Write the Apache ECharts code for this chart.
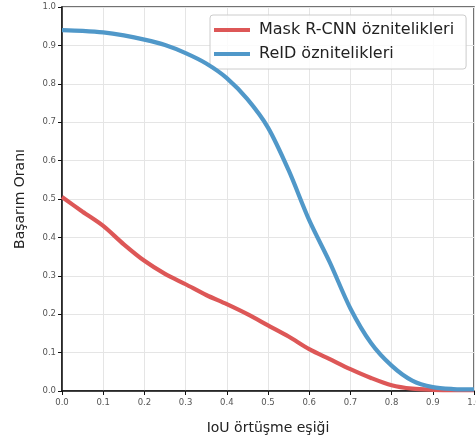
<!DOCTYPE html>
<html>
<head>
<meta charset="utf-8">
<script src="https://cdn.jsdelivr.net/npm/echarts@6/dist/echarts.min.js"></script>
<style>html,body{margin:0;padding:0;background:#fff}#c{width:476px;height:443px}</style>
</head>
<body>
<div id="c"></div>
<script>
const iouThresholds = [0,0.05,0.1,0.15,0.2,0.25,0.3,0.35,0.4,0.45,0.5,0.55,0.6,0.65,0.7,0.75,0.8,0.85,0.9,0.95,1.0];
const maskRcnn = [0.505,0.467,0.430,0.382,0.339,0.305,0.278,0.250,0.226,0.200,0.171,0.142,0.109,0.083,0.057,0.034,0.015,0.006,0.003,0.002,0.002];
const reid = [0.940,0.938,0.934,0.926,0.915,0.901,0.880,0.853,0.815,0.760,0.686,0.575,0.445,0.335,0.215,0.125,0.066,0.027,0.010,0.005,0.004];
const seriesNames = ['Mask R-CNN öznitelikleri','ReID öznitelikleri'];
const xTitle = 'IoU örtüşme eşiği';
const yTitle = 'Başarım Oranı';

const pairs = arr => iouThresholds.map((x,i)=>[x,arr[i]]);
const chart = echarts.init(document.getElementById('c'), null, {renderer:'canvas'});
const font = 'DejaVu Sans';
chart.setOption({
  animation:false,
  backgroundColor:'#fff',
  textStyle:{fontFamily:font},
  grid:{left:62,right:2,top:7,bottom:52,show:true,borderColor:'#444',borderWidth:1.5,backgroundColor:'transparent',
        containLabel:false,outerBoundsMode:'none'},
  legend:{
    left:210, top:15, orient:'vertical',
    padding:[7,12,7,4],
    backgroundColor:'rgba(255,255,255,0.85)',
    borderColor:'#ccc', borderWidth:1, borderRadius:3,
    icon:'rect', itemWidth:36, itemHeight:4, itemGap:8,
    textStyle:{fontSize:16,color:'#222',fontFamily:font,padding:[0,0,0,4]},
    data:seriesNames
  },
  xAxis:{
    type:'value', min:0, max:1, interval:0.1,
    name:xTitle, nameLocation:'middle', nameGap:30,
    nameTextStyle:{fontSize:14,color:'#222',fontFamily:font},
    axisLine:{show:true,lineStyle:{color:'#111',width:1.5}},
    axisTick:{show:true,length:4,lineStyle:{color:'#111'}},
    axisLabel:{fontSize:8.5,color:'#555',margin:7,formatter:v=>v.toFixed(1)},
    splitLine:{show:true,lineStyle:{color:'#e5e5e5',width:1}}
  },
  yAxis:{
    type:'value', min:0, max:1, interval:0.1,
    name:yTitle, nameLocation:'middle', nameGap:35,
    nameTextStyle:{fontSize:14,color:'#222',fontFamily:font},
    axisLine:{show:true,lineStyle:{color:'#111',width:1.5}},
    axisTick:{show:true,length:4,lineStyle:{color:'#111'}},
    axisLabel:{fontSize:8.5,color:'#555',margin:6,formatter:v=>v.toFixed(1)},
    splitLine:{show:true,lineStyle:{color:'#e5e5e5',width:1}}
  },
  series:[
    {name:seriesNames[0],type:'line',data:pairs(maskRcnn),smooth:0.3,showSymbol:false,
     lineStyle:{color:'#dd5757',width:4.2},itemStyle:{color:'#dd5757'},z:3},
    {name:seriesNames[1],type:'line',data:pairs(reid),smooth:0.3,showSymbol:false,
     lineStyle:{color:'#5098c9',width:4.2},itemStyle:{color:'#5098c9'},z:4}
  ]
});
</script>
</body>
</html>
